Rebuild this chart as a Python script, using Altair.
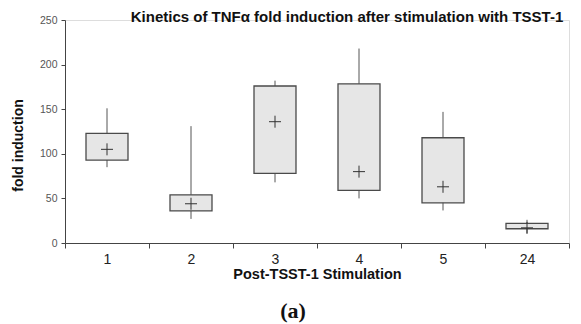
import altair as alt
import pandas as pd

times = ["1", "2", "3", "4", "5", "24"]
whisker_low = [85, 27, 68, 50, 36.5, 11]
q1 = [93, 36, 78, 59, 45, 16]
q3 = [123, 54, 176, 178.5, 118, 22]
whisker_high = [151, 131, 182, 218, 147, 26]
mean_val = [105, 44, 136, 80, 63, 17]

df = pd.DataFrame({
    "time": times, "lo": whisker_low, "q1": q1, "q3": q3,
    "hi": whisker_high, "mean": mean_val,
})

W, H = 504, 223

xenc = alt.X("time:N", sort=times, scale=alt.Scale(paddingInner=0, paddingOuter=0),
             axis=alt.Axis(title="Post-TSST-1 Stimulation", labelAngle=0, tickBand="extent",
                           labelFont="Liberation Sans", labelFontSize=14, labelColor="#222",
                           labelPadding=4, tickSize=5, tickColor="#444", domainColor="#444",
                           titleFont="Liberation Sans", titleFontSize=14.5, titleFontWeight="bold",
                           titleColor="#111", titlePadding=1))
yscale = alt.Scale(domain=[0, 250])
yaxis = alt.Axis(title="fold induction", values=[0, 50, 100, 150, 200, 250], grid=False,
                 labelFont="Liberation Sans", labelFontSize=10.5, labelColor="#555",
                 tickSize=4, tickColor="#444", domainColor="#444", labelPadding=4,
                 titleFont="Liberation Sans", titleFontSize=14, titleFontWeight="bold",
                 titleColor="#111", titleX=-47, titleY=125, titleBaseline="middle")

base = alt.Chart(df)

whisk = base.mark_rule(color="#555", strokeWidth=1).encode(
    x=xenc, y=alt.Y("lo:Q", scale=yscale, axis=yaxis), y2="hi:Q")
box = base.mark_bar(size=42, fill="#e6e6e6", stroke="#4a4a4a", strokeWidth=1.3).encode(
    x=alt.X("time:N", sort=times), y=alt.Y("q1:Q", scale=yscale), y2="q3:Q")
cross = base.mark_point(shape="M-1,0L1,0M0,-1L0,1", size=144, filled=False,
                        color="#333", strokeWidth=1, opacity=1).encode(
    x=alt.X("time:N", sort=times), y=alt.Y("mean:Q", scale=yscale))

lab = alt.Chart(pd.DataFrame({"t": ["(a)"]})).mark_text(
    font="Liberation Serif", fontSize=22, fontWeight="bold", color="#111",
    align="center", baseline="middle").encode(
    text="t:N", x=alt.value(228), y=alt.value(291))

chart = alt.layer(whisk, box, cross, lab).properties(
    width=W, height=H,
    title=alt.TitleParams("Kinetics of TNFα fold induction after stimulation with TSST-1",
                          font="Liberation Sans", fontSize=15, fontWeight="bold",
                          color="#111", anchor="middle", dx=30, offset=-10),
    autosize=alt.AutoSizeParams(type="none"),
    padding={"left": 65, "top": 20, "right": 12, "bottom": 81},
).configure_view(stroke=None).configure(background="white")

chart.save("out.html", embed_options={"renderer": "svg", "actions": False})
